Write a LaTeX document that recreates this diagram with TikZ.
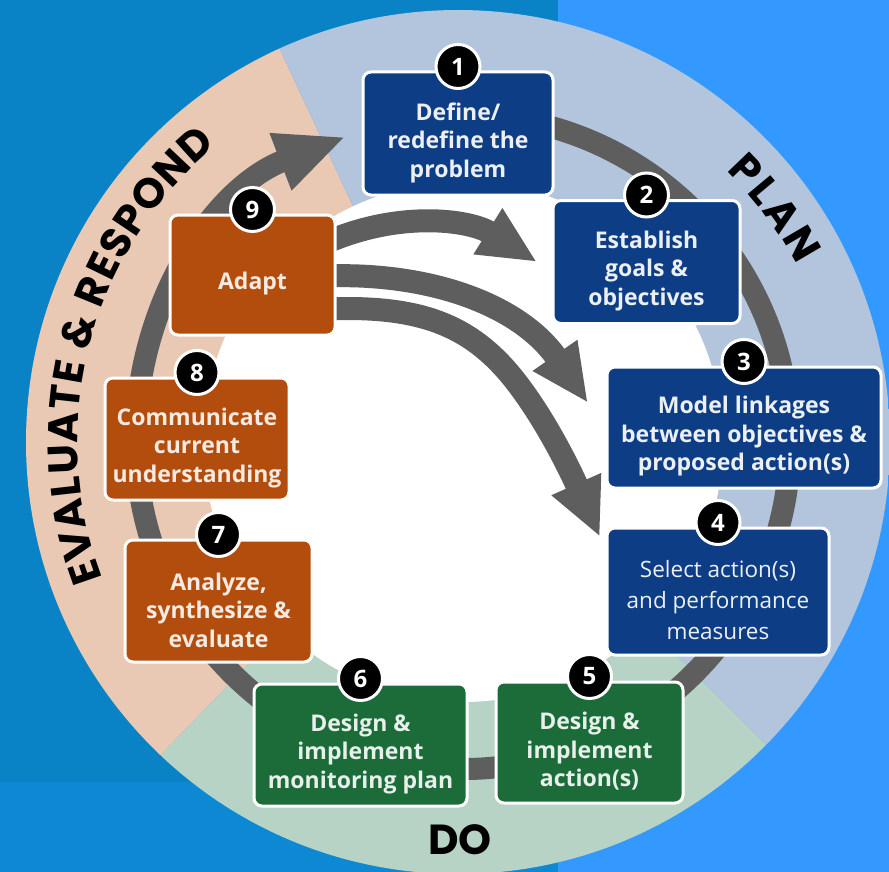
\documentclass[tikz,border=0pt]{standalone}
\usepackage{fontspec}
\setmainfont{Open Sans}
\newfontfamily\headfont{Poppins}
\usetikzlibrary{arrows.meta}

\definecolor{bgleft}{HTML}{0A82C6}
\definecolor{bgleftlow}{HTML}{0D88D2}
\definecolor{bgright}{HTML}{3399FF}
\definecolor{evalpeach}{HTML}{E9C9B3}
\definecolor{planblue}{HTML}{B3C5DC}
\definecolor{dogreen}{HTML}{B6D3C6}
\definecolor{ringgray}{HTML}{5E5E5E}
\definecolor{stepnavy}{HTML}{0D3E85}
\definecolor{steporange}{HTML}{B34D0D}
\definecolor{stepgreen}{HTML}{1C6C39}

\newcommand{\phasefont}{\headfont\bfseries\fontsize{42}{42}\selectfont}

\begin{document}
\begin{tikzpicture}[x=1pt, y=-1pt,
    stepbox/.style={draw=white, line width=3pt, rounded corners=8pt},
    navybox/.style={stepbox, fill=stepnavy},
    orangebox/.style={stepbox, fill=steporange},
    greenbox/.style={stepbox, fill=stepgreen},
    boxtext/.style={align=center, inner sep=0pt, font=\bfseries\fontsize{23}{28.5}\selectfont},
    stepnum/.style={circle, fill=black, draw=white, line width=3pt, minimum size=44pt,
        inner sep=0pt, text=white, font=\bfseries\fontsize{24}{24}\selectfont},
    ring/.style={draw=ringgray, line width=22pt},
    loop arrow/.style={draw=ringgray, line width=23pt, -{Triangle[length=58pt, width=50pt]}},
    phase/.style={font=\phasefont, text=black, inner sep=0pt}]
    \useasboundingbox (0,0) rectangle (889,872);
    \clip (0,0) rectangle (889,872);
    % background
    \fill[bgleft] (0,0) rectangle (558,872);
    \fill[bgleftlow] (0,782) rectangle (558,872);
    \fill[bgright] (558,0) rectangle (889,872);
    % phase sectors
    \begin{scope}
        \clip (458,442) circle (432);
        \fill[evalpeach] (463,442) -- ++(-115:500) arc[start angle=-115, end angle=-226, radius=500] -- cycle;
        \fill[planblue] (463,442) -- ++(45:500) arc[start angle=45, end angle=-115, radius=500] -- cycle;
        \fill[dogreen] (463,442) -- ++(-226:500) arc[start angle=-226, end angle=-315, radius=500] -- cycle;
    \end{scope}
    \fill[white] (463,442) circle (260);
    % cycle ring with the arrow back to step 1
    \draw[ring, -{Triangle[length=70pt, width=56pt]}] (463,442) ++(-100:327)
        arc[start angle=-100, end angle=249, radius=327];
    % arrows out of Adapt
    \draw[loop arrow] (325,243) .. controls (400,210) and (470,220) .. (537,262);
    \draw[loop arrow] (325,276) .. controls (430,272) and (520,305) .. (588,403);
    \draw[loop arrow] (325,309) .. controls (420,305) and (470,325) .. (513,378)
        .. controls (545,418) and (570,470) .. (600,537);
    % steps
    \node[navybox, minimum width=190pt, minimum height=123pt] (b1) at (458,133.5) {};
    \node[navybox, minimum width=187pt, minimum height=123pt] (b2) at (646.5,262) {};
    \node[navybox, minimum width=274pt, minimum height=121pt] (b3) at (744,427.5) {};
    \node[navybox, minimum width=222pt, minimum height=127pt] (b4) at (718,591.5) {};
    \node[greenbox, minimum width=187pt, minimum height=121pt] (b5) at (589.5,742.5) {};
    \node[greenbox, minimum width=213pt, minimum height=122pt] (b6) at (360.5,745) {};
    \node[orangebox, minimum width=187pt, minimum height=122pt] (b7) at (218.5,601) {};
    \node[orangebox, minimum width=184pt, minimum height=122pt] (b8) at (197,439) {};
    \node[orangebox, minimum width=165pt, minimum height=120pt] (b9) at (252.5,275) {};
    \node[boxtext, text=white!92!stepnavy] (t1) at ([yshift=-9pt]b1.center) {Define/\\redefine the\\problem};
    \node[boxtext, text=white!92!stepnavy] (t2) at ([yshift=-9pt]b2.center) {Establish\\goals \&\\objectives};
    \node[boxtext, text=white!92!stepnavy] (t3) at ([yshift=-9pt]b3.center) {Model linkages\\between objectives \&\\proposed action(s)};
    \node[boxtext, text=white!92!stepnavy, font=\fontsize{22.5}{31}\selectfont] (t4) at ([yshift=-9pt]b4.center) {Select action(s)\\and performance\\measures};
    \node[boxtext, text=white!90!stepgreen] (t5) at ([yshift=-9pt]b5.center) {Design \&\\implement\\action(s)};
    \node[boxtext, text=white!90!stepgreen] (t6) at ([yshift=-9pt]b6.center) {Design \&\\implement\\monitoring plan};
    \node[boxtext, text=white!88!steporange] (t7) at ([yshift=-9pt]b7.center) {Analyze,\\synthesize \&\\evaluate};
    \node[boxtext, text=white!88!steporange] (t8) at ([yshift=-9pt]b8.center) {Communicate\\current\\understanding};
    \node[boxtext, text=white!88!steporange] (t9) at ([yshift=-9pt]b9.center) {Adapt};
    \foreach \n in {1,...,9}
        \node[stepnum] (n\n) at ([yshift=4pt]b\n.north) {\n};
    % phase names, letter by letter round the ring
    \begin{scope}[shift={(463,442)}]
        \foreach \ch/\s [count=\i] in {E/11.75, V/40, A/71.6, L/99.6, U/127.2, A/159, T/188.7,
                E/215.05, \&/256.4, R/299.45, E/326.65, S/353, P/380.6, O/412.2, N/446.55, D/479.4} {
            \pgfmathsetmacro\ang{200.7-\s*0.14324}
            \node[phase, anchor=base, rotate=\ang-90] (ev\i) at (-\ang:385.5) {\ch};
        }
        \foreach \ch/\s [count=\i] in {P/13, L/41, A/71, N/105.75} {
            \pgfmathsetmacro\ang{45.8-\s*0.1458}
            \node[phase, anchor=base, rotate=\ang-90] (pl\i) at (-\ang:378) {\ch};
        }
    \end{scope}
    \node[phase] (do) at (460,840) {DO};
\end{tikzpicture}
\end{document}
